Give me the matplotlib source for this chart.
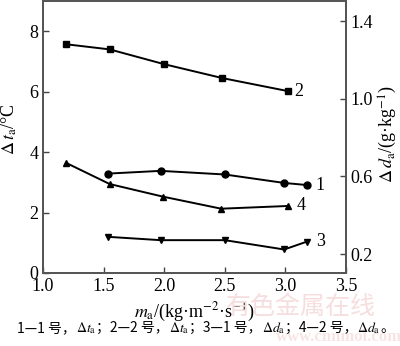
import matplotlib
matplotlib.use('Agg')
import matplotlib.pyplot as plt

plt.rcParams['font.family'] = ['Liberation Serif', 'Noto Sans CJK SC', 'DejaVu Sans']
plt.rcParams['mathtext.fontset'] = 'stix'

# 左轴: 1号、2号 Δt_a
x1 = [1.54, 1.97, 2.50, 2.99, 3.18]
dt1 = [3.29, 3.38, 3.26, 2.98, 2.91]
x2 = [1.19, 1.55, 2.00, 2.48, 3.02]
dt2 = [7.57, 7.40, 6.91, 6.45, 6.02]

# 右轴: 1号、2号 Δd_a
x3 = [1.54, 1.97, 2.50, 2.99, 3.18]
dd3 = [0.289, 0.272, 0.272, 0.224, 0.265]
x4 = [1.19, 1.55, 1.99, 2.47, 3.02]
dd4 = [0.670, 0.561, 0.496, 0.434, 0.448]

xticks = [1.0, 1.5, 2.0, 2.5, 3.0, 3.5]
lticks = [0, 2, 4, 6, 8]
rticks = [0.2, 0.6, 1.0, 1.4]

CJK = ['Noto Sans CJK SC', 'DejaVu Sans']

fig = plt.figure(figsize=(4.0, 3.46), dpi=100)

# 水印
fig.text(0.565, 0.113, '有色金属在线', fontsize=18, color='#f6dede',
         family=CJK, ha='left', va='center', zorder=0)
fig.text(0.69, 0.025, 'www.cnnmol.com', fontsize=12, color='#f8e4e4',
         family='Liberation Serif', weight='bold', ha='left', va='center', zorder=0)

ax = fig.add_axes([0.1075, 0.211, 0.7575, 0.786])
ax2 = ax.twinx()

ax.plot(x1, dt1, '-o', color='black', lw=1.4, ms=5)
ax.plot(x2, dt2, '-s', color='black', lw=1.4, ms=4.5)
ax2.plot(x3, dd3, '-v', color='black', lw=1.4, ms=5)
ax2.plot(x4, dd4, '-^', color='black', lw=1.4, ms=5)

# 曲线编号
ax.text(x1[-1] + 0.07, dt1[-1], '1', fontsize=13, va='center')
ax.text(x2[-1] + 0.05, dt2[-1], '2', fontsize=13, va='center')
ax2.text(x3[-1] + 0.07, dd3[-1], '3', fontsize=13, va='center')
ax2.text(x4[-1] + 0.07, dd4[-1], '4', fontsize=13, va='center')

ax.set_xlim(1.0, 3.5)
ax.set_ylim(0, 9)
ax2.set_ylim(0.103, 1.503)
ax.set_xticks(xticks)
ax.set_xticklabels(['%.1f' % v for v in xticks])
ax.set_yticks(lticks)
ax2.set_yticks(rticks)
ax2.set_yticklabels(['%.1f' % v for v in rticks])

for a in (ax, ax2):
    a.tick_params(direction='in', length=4, width=1, labelsize=13, color='#444444')
    for s in a.spines.values():
        s.set_linewidth(1.3)
        s.set_color('#555555')

ax.set_xlabel(r'$m_{\rm a}$/(kg·m$^{-2}$·s$^{-1}$)', fontsize=13, labelpad=4)
ax.set_ylabel(r'$\Delta\,t_{\rm a}$/°C', fontsize=13)
ax.yaxis.set_label_coords(-0.08, 0.53)
ax2.set_ylabel(r'$\Delta\,d_{\rm a}$/(g·kg$^{-1}$)', fontsize=13, rotation=90)
ax2.yaxis.set_label_coords(1.103, 0.51)

# 图注 (中文与斜体符号分段排版)
caption = [('1—1 号，', CJK), (r'$\Delta t_{\rm a}$', 'Liberation Serif'),
           ('；2—2 号，', CJK), (r'$\Delta t_{\rm a}$', 'Liberation Serif'),
           ('；3—1 号，', CJK), (r'$\Delta d_{\rm a}$', 'Liberation Serif'),
           ('；4—2 号，', CJK), (r'$\Delta d_{\rm a}$', 'Liberation Serif'),
           ('。', CJK)]
r = fig.canvas.get_renderer()
xc = 0.043
for s, fam in caption:
    t = fig.text(xc, 0.04, s, fontsize=10, family=fam, va='baseline')
    xc += t.get_window_extent(renderer=r).width / fig.bbox.width

fig.savefig('out.png', dpi=100)
